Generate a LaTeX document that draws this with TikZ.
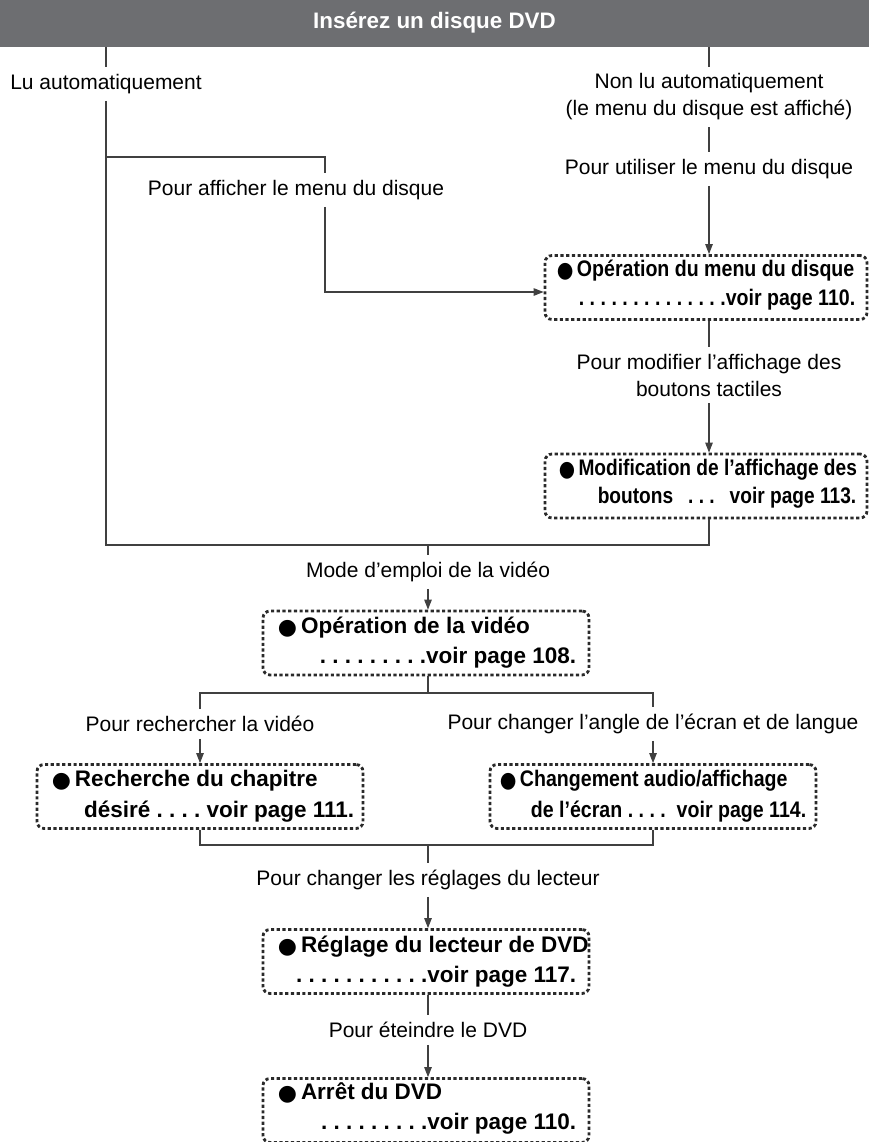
\documentclass[tikz,border=0pt]{standalone}
\usepackage{fontspec}
\usepackage{graphicx}
\setmainfont{Liberation Sans}
\newfontfamily\dejavu{DejaVu Sans}
\usetikzlibrary{arrows.meta,calc}
\definecolor{titlec}{HTML}{6D6E71}
\definecolor{linec}{HTML}{404040}
\definecolor{boxc}{HTML}{2A2A2A}
\newcommand{\blt}{\raisebox{-1pt}{\dejavu\fontsize{22}{22}\selectfont ●}\hspace{4pt}}
\newcommand{\nrw}[2]{\scalebox{#1}[1]{#2}}
\frenchspacing
\begin{document}
\begin{tikzpicture}[x=1pt,y=-1pt,
  lbl/.style={font=\fontsize{21}{27}\selectfont, align=center, inner sep=0pt, outer sep=7pt},
  btxt/.style={font=\fontsize{22.5}{26}\selectfont\bfseries, inner sep=0pt},
  dbox/.style={draw=boxc, line width=2.8pt, dash pattern=on 3.2pt off 2.5pt, rounded corners=7pt, minimum width=#1, minimum height=64pt, inner sep=0pt},
  conn/.style={draw=linec, line width=1.1pt},
  arr/.style={conn, -{Triangle[length=10pt,width=7.5pt]}}
]
\useasboundingbox (0,0) rectangle (869,1142);
\node[fill=titlec, minimum width=869pt, minimum height=47pt, inner sep=0pt, anchor=north west] (title) at (0,0) {};
\node[text=white, font=\fontsize{22.4}{26}\selectfont\bfseries, inner sep=0pt] (titletxt) at (434.5,23) {Insérez un disque DVD};

% labels
\node[lbl] (lu) at (106,84) {Lu automatiquement};
\node[lbl] (nonlu) at (709,97) {Non lu automatiquement\\(le menu du disque est affiché)};
\node[lbl] (util) at (709,169) {Pour utiliser le menu du disque};
\node[lbl] (affi) at (296,190) {Pour afficher le menu du disque};
\node[lbl] (modif) at (709,375) {Pour modifier l’affichage des\\boutons tactiles};
\node[lbl] (mode) at (428,572) {Mode d’emploi de la vidéo};
\node[lbl] (rech) at (200,724) {Pour rechercher la vidéo};
\node[lbl] (chang) at (653,724) {Pour changer l’angle de l’écran et de langue};
\node[lbl] (regl) at (428,880) {Pour changer les réglages du lecteur};
\node[lbl] (eteind) at (428,1030) {Pour éteindre le DVD};

% boxes
\node[dbox=322pt] (b1) at (706,287.5) {};
\node[dbox=322pt] (b2) at (706,486) {};
\node[dbox=326pt] (b3) at (426,643) {};
\node[dbox=326pt] (b4) at (200,796.5) {};
\node[dbox=326pt] (b5) at (653,796.5) {};
\node[dbox=326pt] (b6) at (426,961.5) {};
\node[dbox=326pt] (b7) at (426,1110.5) {};

% box texts
\node[btxt, anchor=base west] (b1a) at ($(b1.north west)+(13,22)$) {\nrw{0.87}{\blt Opération du menu du disque}};
\node[btxt, anchor=base east] (b1b) at ($(b1.north east)+(-13,51)$) {\nrw{0.87}{. . . . . . . . . . . . . .voir page 110.}};
\node[btxt, anchor=base west] (b2a) at ($(b2.north west)+(15,22.5)$) {\nrw{0.85}{\blt Modification de l’affichage des}};
\node[btxt, anchor=base east] (b2b) at ($(b2.north east)+(-12,51)$) {\nrw{0.85}{\makebox[304pt][l]{boutons\hfill. . .\hfill voir page 113.}}};
\node[btxt, anchor=base west] (b3a) at ($(b3.north west)+(16,23.5)$) {\blt Opération de la vidéo};
\node[btxt, anchor=base east] (b3b) at ($(b3.north east)+(-14,54)$) {. . . . . . . . .voir page 108.};
\node[btxt, anchor=base west] (b4a) at ($(b4.north west)+(16,23.5)$) {\blt Recherche du chapitre};
\node[btxt, anchor=base east] (b4b) at ($(b4.north east)+(-10,54)$) {désiré . . . . voir page 111.};
\node[btxt, anchor=base west] (b5a) at ($(b5.north west)+(11,23.5)$) {\nrw{0.87}{\blt Changement audio/affichage}};
\node[btxt, anchor=base east] (b5b) at ($(b5.north east)+(-11,54)$) {\nrw{0.87}{de l’écran . . . . \ voir page 114.}};
\node[btxt, anchor=base west] (b6a) at ($(b6.north west)+(16,24)$) {\blt Réglage du lecteur de DVD};
\node[btxt, anchor=base east] (b6b) at ($(b6.north east)+(-14,54)$) {. . . . . . . . . . .voir page 117.};
\node[btxt, anchor=base west] (b7a) at ($(b7.north west)+(16,22)$) {\blt Arrêt du DVD};
\node[btxt, anchor=base east] (b7b) at ($(b7.north east)+(-14,52)$) {. . . . . . . . .voir page 110.};

% junctions
\coordinate (k1) at (325,157);
\coordinate (k2) at (325,292);
\coordinate (j1) at (428,545);
\coordinate (j2) at (428,693);
\coordinate (j3) at (428,845);

% connectors
\draw[conn] (title.south -| lu) -- (lu.north);
\draw[conn] (title.south -| nonlu) -- (nonlu.north);
\draw[conn] (nonlu.south) -- (util.north);
\draw[arr] (util.south) -- (util.south |- b1.north);
\draw[conn] (lu.south) |- (j1);
\draw[conn] (lu.south |- k1) -- (k1) -- (k1 |- affi.north);
\draw[arr] (k1 |- affi.south) -- (k2) -- (k2 -| b1.west);
\draw[conn] (b1.south -| modif) -- (modif.north);
\draw[arr] (modif.south) -- (modif.south |- b2.north);
\draw[conn] (b2.south -| modif) |- (j1);
\draw[conn] (j1) -- (mode.north);
\draw[arr] (mode.south) -- (mode.south |- b3.north);
\draw[conn] (b3.south -| j2) -- (j2);
\draw[conn] (rech.north) |- (j2) -| (chang.north);
\draw[arr] (rech.south) -- (rech.south |- b4.north);
\draw[arr] (chang.south) -- (chang.south |- b5.north);
\draw[conn] (b4.south -| rech) |- (j3);
\draw[conn] (b5.south -| chang) |- (j3);
\draw[conn] (j3) -- (regl.north);
\draw[arr] (regl.south) -- (regl.south |- b6.north);
\draw[conn] (b6.south -| regl) -- (eteind.north);
\draw[arr] (eteind.south) -- (eteind.south |- b7.north);
\end{tikzpicture}
\end{document}
